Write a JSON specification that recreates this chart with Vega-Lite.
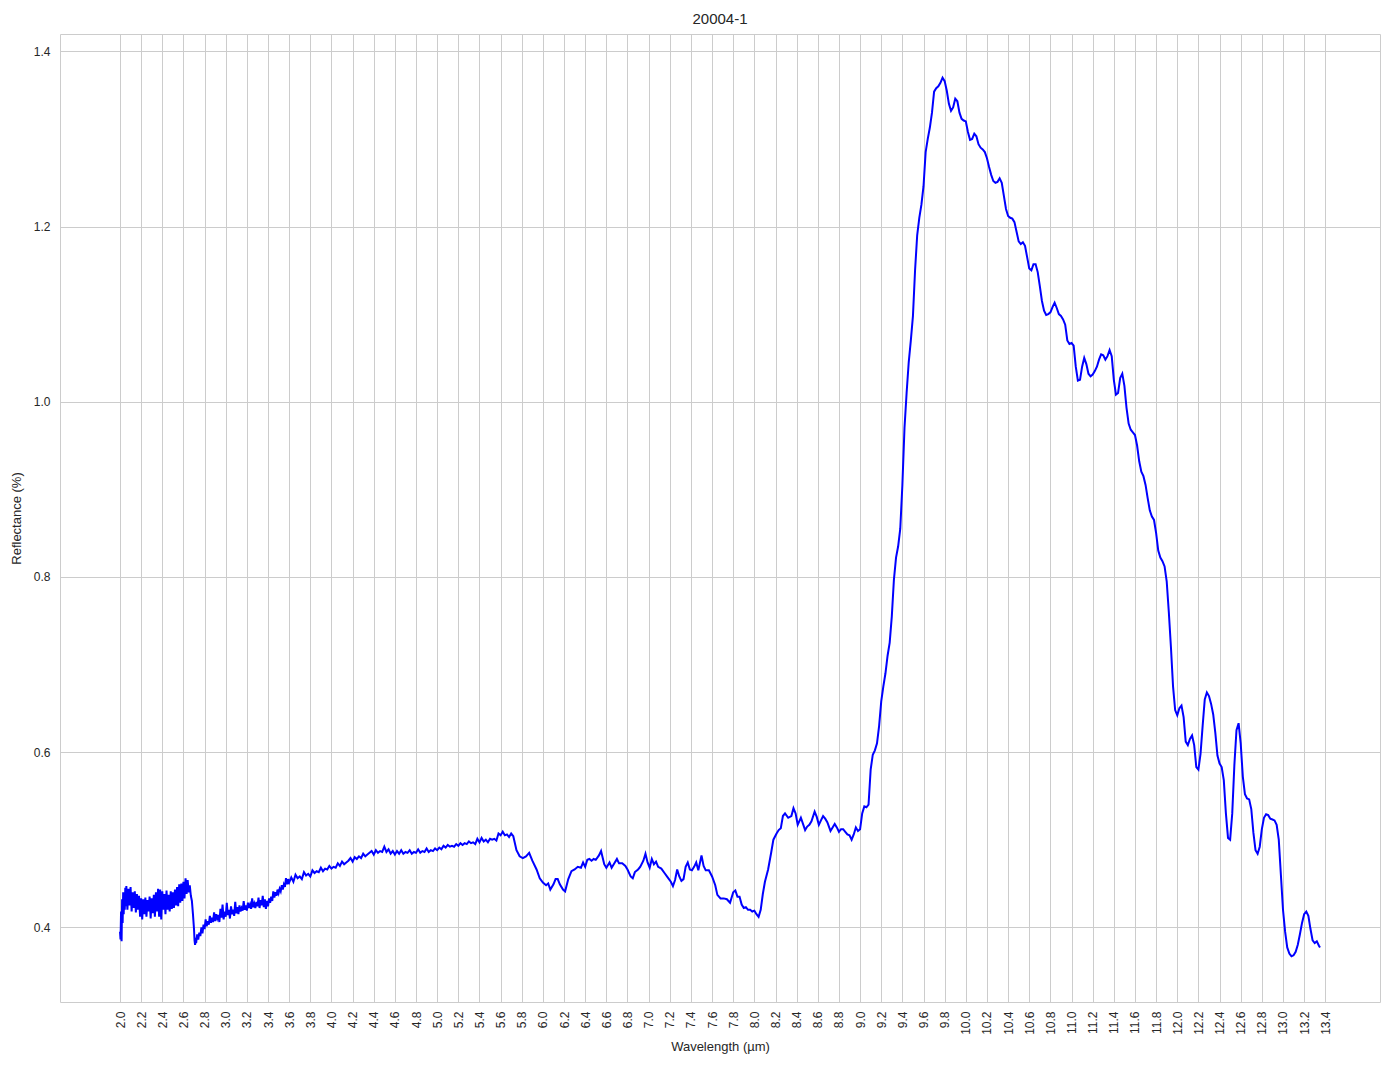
{
  "$schema": "https://vega.github.io/schema/vega-lite/v6.json",
  "autosize": {"type": "none"},
  "padding": {"left": 60, "top": 34, "right": 14, "bottom": 67},
  "width": 1320,
  "height": 968,
  "title": {"text": "20004-1", "fontSize": 15, "fontWeight": "normal", "color": "#262626", "offset": 7, "anchor": "middle"},
  "config": {"font": "Liberation Sans", "view": {"stroke": "#cccccc", "strokeWidth": 1}},
  "data": {"values": [
{"w":2.000,"r":0.395},{"w":2.005,"r":0.386},{"w":2.010,"r":0.418},{"w":2.015,"r":0.384},{"w":2.020,"r":0.432},{"w":2.025,"r":0.405},{"w":2.030,"r":0.440},{"w":2.035,"r":0.415},{"w":2.040,"r":0.436},{"w":2.045,"r":0.420},{"w":2.050,"r":0.445},{"w":2.055,"r":0.424},{"w":2.060,"r":0.447},{"w":2.070,"r":0.420},{"w":2.080,"r":0.444},{"w":2.090,"r":0.425},{"w":2.100,"r":0.446},{"w":2.110,"r":0.418},{"w":2.120,"r":0.440},{"w":2.130,"r":0.422},{"w":2.140,"r":0.441},{"w":2.150,"r":0.417},{"w":2.160,"r":0.438},{"w":2.170,"r":0.420},{"w":2.180,"r":0.436},{"w":2.190,"r":0.412},{"w":2.200,"r":0.433},{"w":2.210,"r":0.409},{"w":2.220,"r":0.432},{"w":2.230,"r":0.415},{"w":2.240,"r":0.434},{"w":2.250,"r":0.412},{"w":2.260,"r":0.431},{"w":2.270,"r":0.418},{"w":2.280,"r":0.435},{"w":2.290,"r":0.410},{"w":2.300,"r":0.433},{"w":2.310,"r":0.416},{"w":2.320,"r":0.437},{"w":2.330,"r":0.412},{"w":2.340,"r":0.440},{"w":2.350,"r":0.418},{"w":2.360,"r":0.444},{"w":2.370,"r":0.412},{"w":2.380,"r":0.443},{"w":2.390,"r":0.409},{"w":2.400,"r":0.441},{"w":2.410,"r":0.420},{"w":2.420,"r":0.438},{"w":2.430,"r":0.415},{"w":2.440,"r":0.442},{"w":2.450,"r":0.420},{"w":2.460,"r":0.437},{"w":2.470,"r":0.418},{"w":2.480,"r":0.441},{"w":2.490,"r":0.421},{"w":2.500,"r":0.440},{"w":2.510,"r":0.422},{"w":2.520,"r":0.443},{"w":2.530,"r":0.425},{"w":2.540,"r":0.446},{"w":2.550,"r":0.424},{"w":2.560,"r":0.449},{"w":2.570,"r":0.428},{"w":2.580,"r":0.450},{"w":2.590,"r":0.430},{"w":2.600,"r":0.452},{"w":2.610,"r":0.433},{"w":2.620,"r":0.456},{"w":2.630,"r":0.438},{"w":2.640,"r":0.454},{"w":2.650,"r":0.440},{"w":2.660,"r":0.448},{"w":2.670,"r":0.436},{"w":2.680,"r":0.430},{"w":2.690,"r":0.415},{"w":2.700,"r":0.398},{"w":2.705,"r":0.385},{"w":2.710,"r":0.380},{"w":2.715,"r":0.388},{"w":2.720,"r":0.382},
{"w":2.73,"r":0.392},{"w":2.74,"r":0.386},{"w":2.75,"r":0.394},{"w":2.76,"r":0.390},{"w":2.77,"r":0.400},{"w":2.78,"r":0.393},{"w":2.79,"r":0.403},{"w":2.80,"r":0.398},{"w":2.81,"r":0.409},{"w":2.82,"r":0.401},{"w":2.83,"r":0.407},{"w":2.84,"r":0.403},{"w":2.85,"r":0.413},{"w":2.86,"r":0.405},{"w":2.87,"r":0.411},{"w":2.88,"r":0.406},{"w":2.89,"r":0.417},{"w":2.90,"r":0.407},{"w":2.91,"r":0.415},{"w":2.92,"r":0.410},{"w":2.93,"r":0.414},{"w":2.94,"r":0.406},{"w":2.95,"r":0.421},{"w":2.96,"r":0.411},{"w":2.97,"r":0.426},{"w":2.98,"r":0.409},{"w":2.99,"r":0.418},{"w":3.00,"r":0.412},{"w":3.01,"r":0.428},{"w":3.02,"r":0.414},{"w":3.03,"r":0.420},{"w":3.04,"r":0.410},{"w":3.05,"r":0.424},{"w":3.06,"r":0.415},{"w":3.07,"r":0.420},{"w":3.08,"r":0.413},{"w":3.09,"r":0.429},{"w":3.10,"r":0.416},{"w":3.11,"r":0.423},{"w":3.12,"r":0.415},{"w":3.13,"r":0.425},{"w":3.14,"r":0.418},{"w":3.15,"r":0.422},{"w":3.16,"r":0.419},{"w":3.17,"r":0.430},{"w":3.18,"r":0.420},{"w":3.19,"r":0.425},{"w":3.20,"r":0.419},{"w":3.21,"r":0.428},{"w":3.22,"r":0.422},{"w":3.23,"r":0.426},{"w":3.24,"r":0.421},{"w":3.25,"r":0.433},{"w":3.26,"r":0.423},{"w":3.27,"r":0.427},{"w":3.28,"r":0.422},{"w":3.29,"r":0.429},{"w":3.30,"r":0.424},{"w":3.31,"r":0.434},{"w":3.32,"r":0.422},{"w":3.33,"r":0.431},{"w":3.34,"r":0.425},{"w":3.35,"r":0.436},{"w":3.36,"r":0.423},{"w":3.37,"r":0.432},{"w":3.38,"r":0.421},{"w":3.39,"r":0.430},{"w":3.40,"r":0.424},{"w":3.41,"r":0.433},{"w":3.42,"r":0.428},{"w":3.43,"r":0.435},{"w":3.44,"r":0.430},{"w":3.45,"r":0.441},{"w":3.46,"r":0.434},{"w":3.47,"r":0.440},{"w":3.48,"r":0.436},{"w":3.49,"r":0.443},{"w":3.50,"r":0.439},{"w":3.51,"r":0.444},{"w":3.52,"r":0.441},{"w":3.53,"r":0.448},{"w":3.54,"r":0.443},{"w":3.55,"r":0.449},{"w":3.56,"r":0.446},{"w":3.57,"r":0.456},{"w":3.58,"r":0.449},{"w":3.59,"r":0.455},{"w":3.60,"r":0.451},
{"w":3.62,"r":0.457},{"w":3.64,"r":0.452},{"w":3.66,"r":0.460},{"w":3.68,"r":0.456},{"w":3.70,"r":0.458},{"w":3.72,"r":0.455},{"w":3.74,"r":0.463},{"w":3.76,"r":0.459},{"w":3.78,"r":0.461},{"w":3.80,"r":0.458},{"w":3.82,"r":0.465},{"w":3.84,"r":0.462},{"w":3.86,"r":0.464},{"w":3.88,"r":0.463},{"w":3.90,"r":0.468},{"w":3.92,"r":0.464},{"w":3.94,"r":0.467},{"w":3.96,"r":0.466},{"w":3.98,"r":0.470},{"w":4.00,"r":0.467},{"w":4.02,"r":0.469},{"w":4.04,"r":0.468},{"w":4.06,"r":0.473},{"w":4.08,"r":0.470},{"w":4.10,"r":0.475},{"w":4.12,"r":0.472},{"w":4.14,"r":0.474},{"w":4.16,"r":0.476},{"w":4.18,"r":0.479},{"w":4.20,"r":0.475},{"w":4.22,"r":0.480},{"w":4.24,"r":0.478},{"w":4.26,"r":0.481},{"w":4.28,"r":0.479},{"w":4.30,"r":0.484},{"w":4.32,"r":0.481},{"w":4.34,"r":0.483},{"w":4.36,"r":0.485},{"w":4.38,"r":0.487},{"w":4.40,"r":0.483},{"w":4.42,"r":0.488},{"w":4.44,"r":0.485},{"w":4.46,"r":0.487},{"w":4.48,"r":0.486},{"w":4.50,"r":0.492},{"w":4.52,"r":0.486},{"w":4.54,"r":0.489},{"w":4.56,"r":0.484},{"w":4.58,"r":0.487},{"w":4.60,"r":0.483},{"w":4.62,"r":0.487},{"w":4.64,"r":0.484},
{"w":4.66,"r":0.488},{"w":4.68,"r":0.484},{"w":4.70,"r":0.486},{"w":4.72,"r":0.485},{"w":4.74,"r":0.488},{"w":4.76,"r":0.484},{"w":4.78,"r":0.486},{"w":4.80,"r":0.485},{"w":4.82,"r":0.489},{"w":4.84,"r":0.485},{"w":4.86,"r":0.487},{"w":4.88,"r":0.486},{"w":4.90,"r":0.490},{"w":4.92,"r":0.486},{"w":4.94,"r":0.488},{"w":4.96,"r":0.487},{"w":4.98,"r":0.490},{"w":5.00,"r":0.488},{"w":5.02,"r":0.491},{"w":5.04,"r":0.489},{"w":5.06,"r":0.493},{"w":5.08,"r":0.491},{"w":5.10,"r":0.494},{"w":5.12,"r":0.492},{"w":5.14,"r":0.493},{"w":5.16,"r":0.492},{"w":5.18,"r":0.495},{"w":5.20,"r":0.493},{"w":5.22,"r":0.496},{"w":5.24,"r":0.494},{"w":5.26,"r":0.496},{"w":5.28,"r":0.495},{"w":5.30,"r":0.498},{"w":5.32,"r":0.496},{"w":5.34,"r":0.497},{"w":5.36,"r":0.495},{"w":5.38,"r":0.501},{"w":5.40,"r":0.497},{"w":5.42,"r":0.502},{"w":5.44,"r":0.498},{"w":5.46,"r":0.500},{"w":5.48,"r":0.497},{"w":5.50,"r":0.501},{"w":5.52,"r":0.500},{"w":5.54,"r":0.501},{"w":5.56,"r":0.499},{"w":5.58,"r":0.507},{"w":5.60,"r":0.505},{"w":5.62,"r":0.509},{"w":5.64,"r":0.505},{"w":5.66,"r":0.506},{"w":5.68,"r":0.503},{"w":5.70,"r":0.507},{"w":5.72,"r":0.504},
{"w":5.75,"r":0.488},{"w":5.78,"r":0.481},{"w":5.81,"r":0.479},{"w":5.84,"r":0.481},{"w":5.87,"r":0.485},{"w":5.90,"r":0.476},{"w":5.94,"r":0.466},{"w":5.97,"r":0.456},{"w":6.00,"r":0.451},{"w":6.03,"r":0.448},{"w":6.05,"r":0.450},{"w":6.07,"r":0.443},{"w":6.10,"r":0.449},{"w":6.12,"r":0.455},{"w":6.14,"r":0.455},{"w":6.16,"r":0.449},{"w":6.19,"r":0.443},{"w":6.21,"r":0.441},{"w":6.24,"r":0.455},{"w":6.27,"r":0.464},{"w":6.30,"r":0.466},{"w":6.33,"r":0.469},{"w":6.36,"r":0.468},{"w":6.38,"r":0.474},{"w":6.40,"r":0.469},{"w":6.42,"r":0.477},{"w":6.44,"r":0.478},{"w":6.46,"r":0.476},{"w":6.48,"r":0.478},{"w":6.50,"r":0.477},{"w":6.53,"r":0.482},{"w":6.55,"r":0.487},{"w":6.58,"r":0.472},{"w":6.60,"r":0.468},{"w":6.63,"r":0.474},{"w":6.65,"r":0.468},{"w":6.68,"r":0.474},{"w":6.70,"r":0.478},{"w":6.72,"r":0.473},{"w":6.75,"r":0.473},{"w":6.78,"r":0.470},{"w":6.80,"r":0.466},{"w":6.83,"r":0.458},{"w":6.85,"r":0.456},{"w":6.87,"r":0.463},{"w":6.90,"r":0.466},{"w":6.92,"r":0.469},{"w":6.95,"r":0.476},{"w":6.97,"r":0.484},{"w":6.99,"r":0.474},{"w":7.01,"r":0.468},{"w":7.03,"r":0.478},{"w":7.05,"r":0.472},{"w":7.07,"r":0.475},{"w":7.09,"r":0.469},{"w":7.12,"r":0.467},{"w":7.15,"r":0.462},{"w":7.18,"r":0.457},{"w":7.21,"r":0.452},{"w":7.23,"r":0.447},{"w":7.25,"r":0.454},{"w":7.27,"r":0.466},{"w":7.29,"r":0.458},{"w":7.31,"r":0.453},{"w":7.33,"r":0.455},{"w":7.35,"r":0.469},{"w":7.37,"r":0.474},{"w":7.39,"r":0.466},{"w":7.41,"r":0.465},{"w":7.43,"r":0.469},{"w":7.45,"r":0.474},{"w":7.47,"r":0.465},{"w":7.50,"r":0.482},{"w":7.52,"r":0.470},{"w":7.54,"r":0.465},{"w":7.57,"r":0.465},{"w":7.60,"r":0.458},{"w":7.63,"r":0.448},{"w":7.65,"r":0.437},{"w":7.68,"r":0.433},{"w":7.71,"r":0.433},{"w":7.74,"r":0.432},{"w":7.77,"r":0.428},{"w":7.80,"r":0.440},{"w":7.82,"r":0.442},{"w":7.84,"r":0.435},{"w":7.86,"r":0.435},{"w":7.88,"r":0.426},{"w":7.90,"r":0.422},{"w":7.92,"r":0.423},{"w":7.94,"r":0.420},{"w":7.96,"r":0.420},{"w":7.98,"r":0.418},{"w":8.00,"r":0.419},{"w":8.02,"r":0.415},{"w":8.04,"r":0.412},{"w":8.06,"r":0.420},{"w":8.08,"r":0.438},{"w":8.10,"r":0.452},{"w":8.13,"r":0.466},{"w":8.16,"r":0.486},{"w":8.18,"r":0.500},{"w":8.21,"r":0.507},{"w":8.23,"r":0.511},{"w":8.25,"r":0.513},{"w":8.27,"r":0.527},{"w":8.29,"r":0.530},{"w":8.32,"r":0.525},{"w":8.35,"r":0.527},{"w":8.37,"r":0.536},{"w":8.39,"r":0.530},{"w":8.41,"r":0.517},{"w":8.44,"r":0.525},{"w":8.46,"r":0.518},{"w":8.48,"r":0.511},{"w":8.50,"r":0.515},{"w":8.52,"r":0.517},{"w":8.54,"r":0.521},{"w":8.57,"r":0.532},{"w":8.59,"r":0.526},{"w":8.61,"r":0.517},{"w":8.63,"r":0.522},{"w":8.65,"r":0.527},{"w":8.67,"r":0.524},{"w":8.69,"r":0.520},{"w":8.72,"r":0.510},{"w":8.74,"r":0.514},{"w":8.76,"r":0.518},{"w":8.78,"r":0.514},{"w":8.80,"r":0.509},{"w":8.82,"r":0.512},{"w":8.84,"r":0.512},{"w":8.86,"r":0.509},{"w":8.88,"r":0.506},{"w":8.90,"r":0.505},{"w":8.92,"r":0.500},{"w":8.94,"r":0.506},{"w":8.96,"r":0.514},{"w":8.98,"r":0.510},{"w":9.00,"r":0.512},{"w":9.02,"r":0.530},{"w":9.04,"r":0.538},{"w":9.06,"r":0.537},{"w":9.08,"r":0.540},{"w":9.10,"r":0.580},{"w":9.12,"r":0.597},{"w":9.14,"r":0.602},{"w":9.16,"r":0.610},{"w":9.18,"r":0.630},{"w":9.20,"r":0.658},{"w":9.22,"r":0.675},{"w":9.24,"r":0.690},{"w":9.26,"r":0.710},{"w":9.28,"r":0.725},{"w":9.30,"r":0.755},{"w":9.32,"r":0.797},{"w":9.34,"r":0.822},{"w":9.36,"r":0.835},{"w":9.38,"r":0.855},{"w":9.40,"r":0.905},{"w":9.42,"r":0.970},{"w":9.44,"r":1.010},{"w":9.46,"r":1.045},{"w":9.48,"r":1.070},{"w":9.50,"r":1.098},{"w":9.52,"r":1.150},{"w":9.54,"r":1.190},{"w":9.56,"r":1.210},{"w":9.58,"r":1.225},{"w":9.60,"r":1.246},{"w":9.62,"r":1.285},{"w":9.64,"r":1.300},{"w":9.66,"r":1.313},{"w":9.68,"r":1.330},{"w":9.70,"r":1.354},{"w":9.72,"r":1.358},{"w":9.74,"r":1.360},{"w":9.76,"r":1.364},{"w":9.78,"r":1.370},{"w":9.80,"r":1.366},{"w":9.82,"r":1.355},{"w":9.84,"r":1.340},{"w":9.86,"r":1.332},{"w":9.88,"r":1.336},{"w":9.90,"r":1.346},{"w":9.92,"r":1.343},{"w":9.94,"r":1.330},{"w":9.96,"r":1.323},{"w":9.98,"r":1.321},{"w":10.00,"r":1.320},{"w":10.02,"r":1.308},{"w":10.04,"r":1.299},{"w":10.06,"r":1.300},{"w":10.08,"r":1.306},{"w":10.10,"r":1.303},{"w":10.12,"r":1.294},{"w":10.14,"r":1.290},{"w":10.16,"r":1.288},{"w":10.18,"r":1.285},{"w":10.20,"r":1.278},{"w":10.22,"r":1.268},{"w":10.24,"r":1.259},{"w":10.26,"r":1.252},{"w":10.28,"r":1.250},{"w":10.30,"r":1.251},{"w":10.32,"r":1.255},{"w":10.34,"r":1.250},{"w":10.36,"r":1.235},{"w":10.38,"r":1.220},{"w":10.40,"r":1.212},{"w":10.42,"r":1.210},{"w":10.44,"r":1.209},{"w":10.46,"r":1.205},{"w":10.48,"r":1.194},{"w":10.50,"r":1.183},{"w":10.52,"r":1.180},{"w":10.54,"r":1.182},{"w":10.56,"r":1.178},{"w":10.58,"r":1.165},{"w":10.60,"r":1.152},{"w":10.62,"r":1.150},{"w":10.64,"r":1.157},{"w":10.66,"r":1.157},{"w":10.68,"r":1.148},{"w":10.70,"r":1.132},{"w":10.72,"r":1.115},{"w":10.74,"r":1.104},{"w":10.76,"r":1.099},{"w":10.78,"r":1.100},{"w":10.80,"r":1.102},{"w":10.82,"r":1.108},{"w":10.84,"r":1.113},{"w":10.86,"r":1.107},{"w":10.88,"r":1.100},{"w":10.90,"r":1.098},{"w":10.92,"r":1.094},{"w":10.94,"r":1.088},{"w":10.96,"r":1.070},{"w":10.98,"r":1.066},{"w":11.00,"r":1.067},{"w":11.02,"r":1.064},{"w":11.04,"r":1.040},{"w":11.06,"r":1.024},{"w":11.08,"r":1.025},{"w":11.10,"r":1.040},{"w":11.12,"r":1.050},{"w":11.14,"r":1.043},{"w":11.16,"r":1.032},{"w":11.18,"r":1.029},{"w":11.20,"r":1.031},{"w":11.22,"r":1.035},{"w":11.24,"r":1.040},{"w":11.26,"r":1.048},{"w":11.28,"r":1.054},{"w":11.30,"r":1.053},{"w":11.32,"r":1.048},{"w":11.34,"r":1.052},{"w":11.36,"r":1.059},{"w":11.38,"r":1.052},{"w":11.40,"r":1.025},{"w":11.42,"r":1.008},{"w":11.44,"r":1.010},{"w":11.46,"r":1.027},{"w":11.48,"r":1.032},{"w":11.50,"r":1.018},{"w":11.52,"r":0.993},{"w":11.54,"r":0.975},{"w":11.56,"r":0.968},{"w":11.58,"r":0.965},{"w":11.60,"r":0.962},{"w":11.62,"r":0.950},{"w":11.64,"r":0.932},{"w":11.66,"r":0.920},{"w":11.68,"r":0.915},{"w":11.70,"r":0.905},{"w":11.72,"r":0.890},{"w":11.74,"r":0.876},{"w":11.76,"r":0.869},{"w":11.78,"r":0.865},{"w":11.80,"r":0.850},{"w":11.82,"r":0.830},{"w":11.84,"r":0.822},{"w":11.86,"r":0.818},{"w":11.88,"r":0.812},{"w":11.90,"r":0.795},{"w":11.92,"r":0.760},{"w":11.94,"r":0.720},{"w":11.96,"r":0.675},{"w":11.98,"r":0.648},{"w":12.00,"r":0.642},{"w":12.02,"r":0.650},{"w":12.04,"r":0.653},{"w":12.06,"r":0.640},{"w":12.08,"r":0.612},{"w":12.10,"r":0.608},{"w":12.12,"r":0.615},{"w":12.14,"r":0.619},{"w":12.16,"r":0.608},{"w":12.18,"r":0.583},{"w":12.20,"r":0.580},{"w":12.22,"r":0.598},{"w":12.24,"r":0.630},{"w":12.26,"r":0.660},{"w":12.28,"r":0.668},{"w":12.30,"r":0.664},{"w":12.32,"r":0.655},{"w":12.34,"r":0.643},{"w":12.36,"r":0.622},{"w":12.38,"r":0.596},{"w":12.40,"r":0.587},{"w":12.42,"r":0.583},{"w":12.44,"r":0.568},{"w":12.46,"r":0.530},{"w":12.48,"r":0.502},{"w":12.50,"r":0.500},{"w":12.52,"r":0.530},{"w":12.54,"r":0.585},{"w":12.56,"r":0.625},{"w":12.58,"r":0.633},{"w":12.60,"r":0.610},{"w":12.62,"r":0.572},{"w":12.64,"r":0.552},{"w":12.66,"r":0.547},{"w":12.68,"r":0.546},{"w":12.70,"r":0.535},{"w":12.72,"r":0.508},{"w":12.74,"r":0.488},{"w":12.76,"r":0.484},{"w":12.78,"r":0.492},{"w":12.80,"r":0.512},{"w":12.82,"r":0.525},{"w":12.84,"r":0.529},{"w":12.86,"r":0.528},{"w":12.88,"r":0.524},{"w":12.90,"r":0.523},{"w":12.92,"r":0.522},{"w":12.94,"r":0.517},{"w":12.96,"r":0.500},{"w":12.98,"r":0.460},{"w":13.00,"r":0.420},{"w":13.02,"r":0.395},{"w":13.04,"r":0.377},{"w":13.06,"r":0.370},{"w":13.08,"r":0.367},{"w":13.10,"r":0.368},{"w":13.12,"r":0.372},{"w":13.14,"r":0.380},{"w":13.16,"r":0.392},{"w":13.18,"r":0.405},{"w":13.20,"r":0.415},{"w":13.22,"r":0.418},{"w":13.24,"r":0.413},{"w":13.26,"r":0.398},{"w":13.28,"r":0.385},{"w":13.30,"r":0.382},{"w":13.32,"r":0.384},{"w":13.34,"r":0.379},{"w":13.35,"r":0.377}
  ]},
  "mark": {"type": "line", "color": "#0000ff", "strokeWidth": 2, "clip": true},
  "encoding": {
    "x": {
      "field": "w", "type": "quantitative",
      "scale": {"domain": [1.4325, 13.9175], "nice": false, "zero": false},
      "axis": {
        "values": [2.0,2.2,2.4,2.6,2.8,3.0,3.2,3.4,3.6,3.8,4.0,4.2,4.4,4.6,4.8,5.0,5.2,5.4,5.6,5.8,6.0,6.2,6.4,6.6,6.8,7.0,7.2,7.4,7.6,7.8,8.0,8.2,8.4,8.6,8.8,9.0,9.2,9.4,9.6,9.8,10.0,10.2,10.4,10.6,10.8,11.0,11.2,11.4,11.6,11.8,12.0,12.2,12.4,12.6,12.8,13.0,13.2,13.4],
        "format": ".1f", "labelAngle": -90, "labelFontSize": 12, "labelColor": "#262626", "labelPadding": 9,
        "labelOverlap": false, "labelFlush": false,
        "ticks": false, "tickSize": 0, "domain": false,
        "grid": true, "gridColor": "#cccccc", "gridWidth": 1,
        "title": "Wavelength (µm)", "titleFontSize": 13, "titleFontWeight": "normal", "titleColor": "#262626", "titlePadding": 6
      }
    },
    "y": {
      "field": "r", "type": "quantitative",
      "scale": {"domain": [0.3147, 1.4198], "nice": false, "zero": false},
      "axis": {
        "values": [0.4, 0.6, 0.8, 1.0, 1.2, 1.4],
        "format": ".1f", "labelFontSize": 12, "labelColor": "#262626", "labelPadding": 10,
        "labelOverlap": false, "labelFlush": false,
        "ticks": false, "tickSize": 0, "domain": false,
        "grid": true, "gridColor": "#cccccc", "gridWidth": 1,
        "title": "Reflectance (%)", "titleFontSize": 13, "titleFontWeight": "normal", "titleColor": "#262626", "titlePadding": 10
      }
    }
  }
}
